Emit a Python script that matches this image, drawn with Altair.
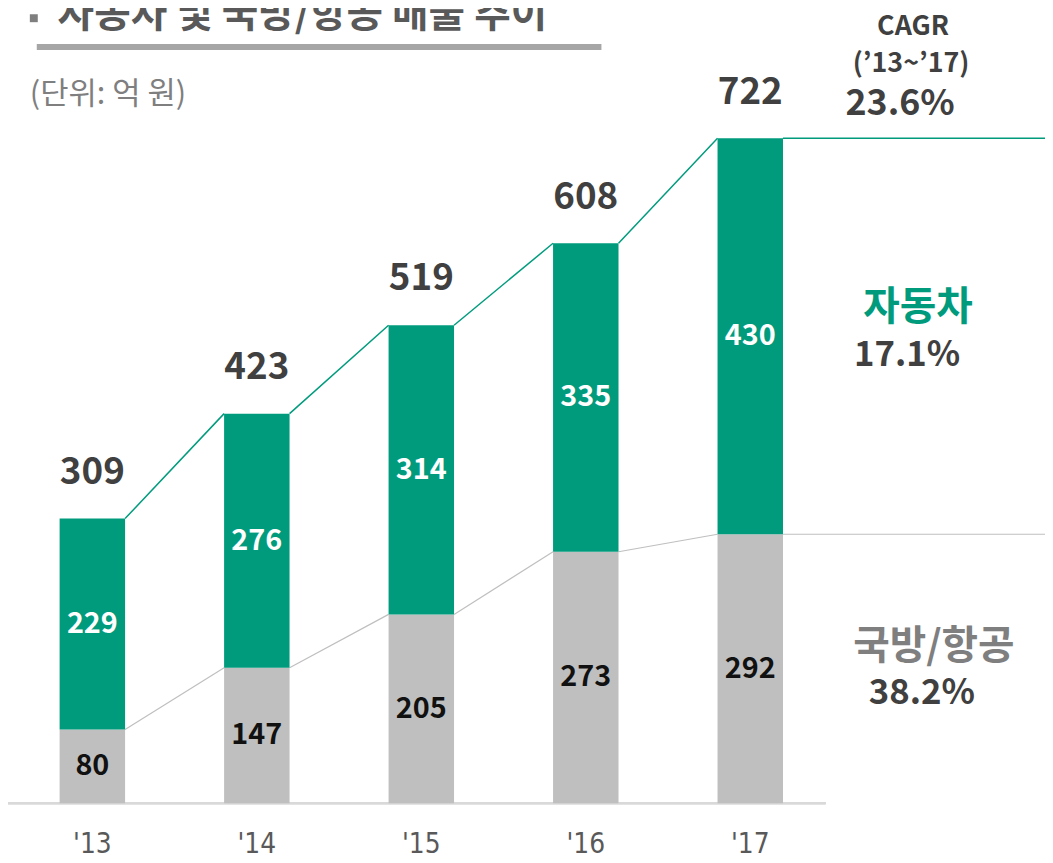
import altair as alt
import pandas as pd

years = ["'13", "'14", "'15", "'16", "'17"]
defense = [80, 147, 205, 273, 292]
auto = [229, 276, 314, 335, 430]
totals = [309, 423, 519, 608, 722]

GREEN = "#009b7d"
GREY = "#bfbfbf"
DARK = "#404040"
FONT = "Noto Sans CJK KR"
HW = 0.199  # half bar width in x units

n = len(years)
bars = pd.DataFrame({
    "idx": list(range(n)),
    "year": years,
    "defense": defense,
    "auto": auto,
    "total": totals,
})
segs = pd.DataFrame({
    "x0": list(range(n - 1)),
    "x1": list(range(1, n)),
    "t0": totals[:-1],
    "t1": totals[1:],
    "d0": defense[:-1],
    "d1": defense[1:],
})
last = bars.tail(1)

W, H = 1045, 855
xs = alt.Scale(domain=[-0.5128, 5.7919], nice=False, zero=False)
ys = alt.Scale(domain=[-61.4, 859.9], nice=False, zero=False)

base = alt.Chart(bars).transform_calculate(
    xl=f"datum.idx - {HW}", xr=f"datum.idx + {HW}",
    dmid="datum.defense / 2", amid="datum.defense + datum.auto / 2",
)

grey_bar = base.mark_bar(color=GREY).encode(
    x=alt.X("xl:Q", scale=xs, axis=None), x2="xr:Q",
    y=alt.Y("defense:Q", scale=ys, axis=None), y2=alt.datum(0),
)
green_bar = base.mark_bar(color=GREEN).encode(
    x=alt.X("xl:Q", scale=xs, axis=None), x2="xr:Q",
    y=alt.Y("defense:Q", scale=ys, axis=None), y2="total:Q",
)

segb = alt.Chart(segs).transform_calculate(
    xa=f"datum.x0 + {HW}", xb=f"datum.x1 - {HW}"
)
green_conn = segb.mark_rule(color=GREEN, strokeWidth=1.5).encode(
    x=alt.X("xa:Q", scale=xs, axis=None), x2="xb:Q",
    y=alt.Y("t0:Q", scale=ys, axis=None), y2="t1:Q",
)
grey_conn = segb.mark_rule(color=GREY, strokeWidth=1.2).encode(
    x=alt.X("xa:Q", scale=xs, axis=None), x2="xb:Q",
    y=alt.Y("d0:Q", scale=ys, axis=None), y2="d1:Q",
)

lastb = alt.Chart(last).transform_calculate(xr=f"datum.idx + {HW}")
green_tail = lastb.mark_rule(color=GREEN, strokeWidth=1.5).encode(
    x=alt.X("xr:Q", scale=xs, axis=None), x2=alt.value(W),
    y=alt.Y("total:Q", scale=ys, axis=None),
)
grey_tail = lastb.mark_rule(color=GREY, strokeWidth=1.2).encode(
    x=alt.X("xr:Q", scale=xs, axis=None), x2=alt.value(W),
    y=alt.Y("defense:Q", scale=ys, axis=None),
)

axis_line = alt.Chart(bars).mark_rule(color="#d9d9d9", strokeWidth=2).encode(
    x=alt.value(0), x2=alt.value(824),
    y=alt.Y("z:Q", scale=ys, axis=None),
).transform_calculate(z="0")

total_lbl = base.mark_text(font=FONT, fontSize=37, fontWeight="bold",
                           color=DARK, baseline="middle", dy=-46).encode(
    x=alt.X("idx:Q", scale=xs, axis=None),
    y=alt.Y("total:Q", scale=ys, axis=None), text="total:Q",
)
auto_lbl = base.mark_text(font=FONT, fontSize=29, fontWeight="bold",
                          color="white", baseline="middle").encode(
    x=alt.X("idx:Q", scale=xs, axis=None),
    y=alt.Y("amid:Q", scale=ys, axis=None), text="auto:Q",
)
def_lbl = base.mark_text(font=FONT, fontSize=29, fontWeight="bold",
                         color="#111111", baseline="middle").encode(
    x=alt.X("idx:Q", scale=xs, axis=None),
    y=alt.Y("dmid:Q", scale=ys, axis=None), text="defense:Q",
)
year_lbl = base.mark_text(font="Liberation Sans Narrow, DejaVu Sans Condensed, sans-serif",
                          fontSize=28, color="#595959", baseline="middle").encode(
    x=alt.X("idx:Q", scale=xs, axis=None),
    y=alt.value(840), text="year:N",
)

def note(txt, x, y, size, color=DARK, weight="bold", align="center", font=FONT):
    return alt.Chart(pd.DataFrame({"t": [txt]})).mark_text(
        font=font, fontSize=size, fontWeight=weight, color=color,
        align=align, baseline="middle",
    ).encode(x=alt.value(x), y=alt.value(y), text="t:N")

title = note("자동차 및 국방/항공 매출 추이", 50, 4, 40, color="#595959", align="left")
bullet = alt.Chart(pd.DataFrame({"a": [1]})).mark_square(
    color="#7f7f7f", size=64, opacity=1).encode(x=alt.value(26), y=alt.value(7))
underline = alt.Chart(pd.DataFrame({"a": [1]})).mark_rule(
    color="#a6a6a6", strokeWidth=6).encode(x=alt.value(29), x2=alt.value(598), y=alt.value(36))
unit = note("(단위: 억 원)", 22, 84, 31, color="#7f7f7f", weight="normal", align="left")

cagr1 = note("CAGR", 912, 16, 27)
cagr2 = note("(’13~’17)", 910, 53, 27)
cagr3 = note("23.6%", 899, 94, 36)
auto_name = note("자동차", 917, 299, 40, color=GREEN)
auto_rate = note("17.1%", 906, 346, 35)
def_name = note("국방/항공", 933, 641, 40, color="#7f7f7f")
def_rate = note("38.2%", 921, 687, 35)

chart = alt.layer(
    axis_line, grey_conn, green_conn, grey_tail, green_tail,
    grey_bar, green_bar, total_lbl, auto_lbl, def_lbl, year_lbl,
    title, bullet, underline, unit,
    cagr1, cagr2, cagr3, auto_name, auto_rate, def_name, def_rate,
).properties(
    width=W, height=H, padding=0,
    autosize=alt.AutoSizeParams(type="none"),
).configure_view(stroke=None)

chart.save("out.html", embed_options={"renderer": "svg", "actions": False})
